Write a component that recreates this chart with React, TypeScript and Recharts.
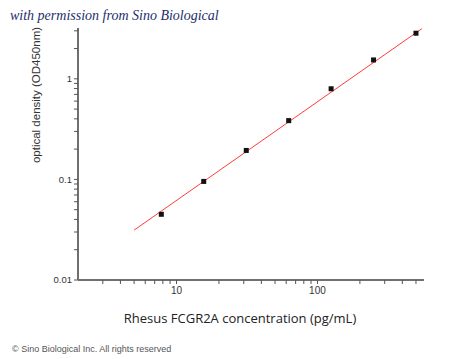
import React from 'react';
import { ComposedChart, Scatter, XAxis, YAxis } from 'recharts';

const concentrations = [7.8, 15.6, 31.25, 62.5, 125, 250, 500];
const odValues = [0.045, 0.0955, 0.194, 0.384, 0.796, 1.54, 2.84];
const fitX = [5, 550];
const fitY = [0.0313, 3.15];

const xTicks = [3, 4, 5, 6, 7, 8, 9, 10, 20, 30, 40, 50, 60, 70, 80, 90, 100, 200, 300, 400, 500];
const xLabeled = [10, 100];
const yTicks = [0.01, 0.02, 0.03, 0.04, 0.05, 0.06, 0.07, 0.08, 0.09, 0.1, 0.2, 0.3, 0.4, 0.5, 0.6, 0.7, 0.8, 0.9, 1, 2, 3];
const yLabeled = [0.01, 0.1, 1];

const points = concentrations.map((c, i) => ({ x: c, y: odValues[i] }));
const fitLine = fitX.map((c, i) => ({ x: c, y: fitY[i] }));

const Square = (props: any) => {
  const { cx, cy } = props;
  if (cx == null || cy == null) return null;
  return <rect x={cx - 2.5} y={cy - 2.5} width={5} height={5} fill="#111" />;
};

const NoShape = () => null;

export default function App() {
  return (
    <div style={{ position: 'absolute', top: 0, left: 0, width: 450, height: 359, background: '#fff', overflow: 'hidden' }}>
      <ComposedChart width={450} height={359} margin={{ top: 28, right: 26, bottom: 0, left: 0 }}>
        <XAxis
          type="number"
          dataKey="x"
          scale="log"
          domain={[2, 570]}
          allowDataOverflow
          ticks={xTicks}
          interval={0}
          tickFormatter={(v: number) => (xLabeled.includes(v) ? String(v) : '')}
          axisLine={{ stroke: '#707070', strokeWidth: 2 }}
          tickLine={{ stroke: '#555' }}
          tickSize={4}
          tickMargin={3}
          tick={{ fontSize: 10, fill: '#333', fontFamily: 'Liberation Sans, Arial, sans-serif' }}
          height={79}
        />
        <YAxis
          type="number"
          dataKey="y"
          scale="log"
          domain={[0.01, 3.2]}
          allowDataOverflow
          ticks={yTicks}
          interval={0}
          tickFormatter={(v: number) => (yLabeled.includes(v) ? String(v) : '')}
          axisLine={{ stroke: '#707070', strokeWidth: 2 }}
          tickLine={{ stroke: '#555' }}
          tickSize={4}
          tick={{ fontSize: 9.5, fill: '#333', fontFamily: 'Liberation Sans, Arial, sans-serif' }}
          width={78}
        />
        <Scatter data={fitLine} line={{ stroke: '#ff3b3b', strokeWidth: 1 }} shape={NoShape} isAnimationActive={false} />
        <Scatter data={points} shape={Square} isAnimationActive={false} />
        <text x={10} y={20} fontSize={14} fontStyle="italic" fill="#1c2f6b" fontFamily="Liberation Serif, DejaVu Serif, serif">
          with permission from Sino Biological
        </text>
        <text
          x={0}
          y={0}
          transform="translate(40,95) rotate(-90)"
          textAnchor="middle"
          fontSize={11.5}
          fill="#333"
          fontFamily="Liberation Sans, Arial, sans-serif"
        >
          optical density (OD450nm)
        </text>
        <text x={240} y={323} textAnchor="middle" fontSize={13} fill="#222" fontFamily="Open Sans, Noto Sans, sans-serif">
          Rhesus FCGR2A concentration (pg/mL)
        </text>
        <text x={12} y={352} fontSize={9} fill="#555" fontFamily="Liberation Sans, Arial, sans-serif">
          © Sino Biological Inc. All rights reserved
        </text>
      </ComposedChart>
    </div>
  );
}
